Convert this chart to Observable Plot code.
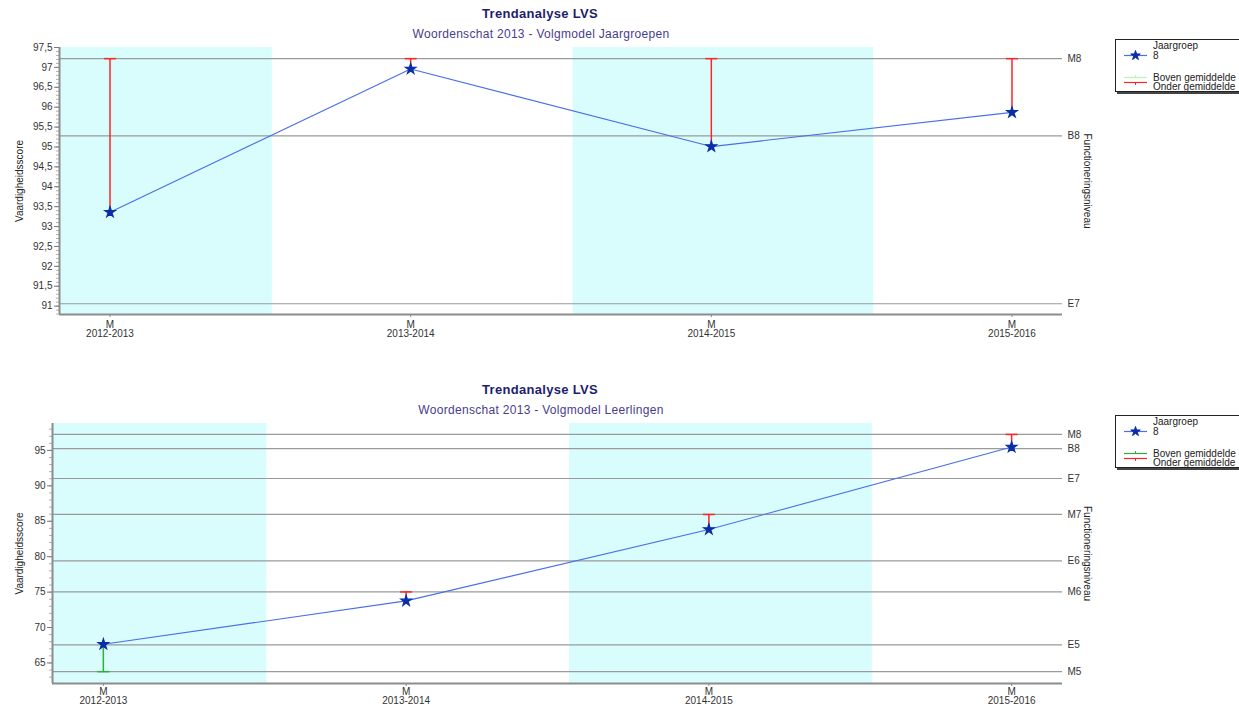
<!DOCTYPE html>
<html>
<head>
<meta charset="utf-8">
<script src="https://cdn.jsdelivr.net/npm/d3@7"></script>
<script src="https://cdn.jsdelivr.net/npm/@observablehq/plot@0.6"></script>
<style>
  html, body { margin: 0; padding: 0; background: #fff; overflow: hidden; }
  #root { position: relative; width: 1239px; height: 706px; overflow: hidden; font-family: "Liberation Sans", Arial, sans-serif; }
  .title { position: absolute; left: 0; width: 1080px; text-align: center; font-weight: bold; font-size: 13px; line-height: 13px; letter-spacing: 0.3px; color: #1e1e6e; }
  .subtitle { position: absolute; left: 0; width: 1082px; text-align: center; font-size: 12px; line-height: 12px; letter-spacing: 0.3px; color: #4a3c8c; }
  .chart { position: absolute; left: 0; }
  .legend { position: absolute; left: 1115px; width: 200px; height: 51px; border: 1px solid #222; box-shadow: 2px 2px 0 #444; background: #fff; font-size: 10px; color: #222; }
  .legend .t { position: absolute; left: 37px; line-height: 10px; white-space: nowrap; }
  .legend svg { position: absolute; left: 0; top: 0; }
</style>
</head>
<body>
<div id="root"></div>
<script>
// ---------- data ----------
const years = ["2012-2013", "2013-2014", "2014-2015", "2015-2016"];
const period = "M";

const scoresJaargroepen = [93.36, 96.96, 95.01, 95.87];
const normJaargroepen   = [97.22, 97.22, 97.22, 97.22];
const levelNamesJaargroepen  = ["M8", "B8", "E7"];
const levelValuesJaargroepen = [97.22, 95.28, 91.06];
const yDomainJaargroepen = [90.79, 97.5];
const majorTicksJaargroepen = [91, 91.5, 92, 92.5, 93, 93.5, 94, 94.5, 95, 95.5, 96, 96.5, 97, 97.5];

const scoresLeerlingen = [67.63, 73.76, 83.84, 95.47];
const normLeerlingen   = [63.77, 75.03, 85.96, 97.26];
const levelNamesLeerlingen  = ["M8", "B8", "E7", "M7", "E6", "M6", "E5", "M5"];
const levelValuesLeerlingen = [97.26, 95.24, 91.04, 85.96, 79.41, 75.03, 67.55, 63.77];
const yDomainLeerlingen = [62.1, 98.8];
const majorTicksLeerlingen = [65, 70, 75, 80, 85, 90, 95];

const bandStart = [-0.46, 1.54];
const bandEnd   = [0.54, 2.54];
const xDomain = [-0.168, 3.168];

const titleText = "Trendanalyse LVS";
const subtitleJaargroepen = "Woordenschat 2013 - Volgmodel Jaargroepen";
const subtitleLeerlingen = "Woordenschat 2013 - Volgmodel Leerlingen";
const legendGroupTitle = "Jaargroep";
const legendGroup = "8";
const legendAbove = "Boven gemiddelde";
const legendBelow = "Onder gemiddelde";

// ---------- helpers ----------
const RED = "#ff2424", GREEN = "#2fae3a", LINE = "#4a6fe6", STAR = "#0a2ea6", BAND = "#d9fdfd";
const capSymbol = {
  draw(context, size) {
    const r = Math.sqrt(size / Math.PI);
    context.moveTo(-r, 0);
    context.lineTo(r, 0);
  }
};
const fmtComma = d => String(d).replace(".", ",");

function makeChart({scores, norms, levelNames, levelValues, yDomain, majorTicks, minorStep, marginLeft, labelDx, height, xPad}) {
  const data = years.map((y, i) => ({i, score: scores[i], norm: norms[i]}));
  const levels = levelNames.map((name, k) => ({name, value: levelValues[k]}));
  const bands = bandStart.map((s, k) => ({start: s, end: bandEnd[k]}));
  const minor = d3.range(Math.ceil(yDomain[0] / minorStep) * minorStep, yDomain[1] + 1e-9, minorStep).map(v => +v.toFixed(3));
  const col = d => d.score < d.norm ? RED : GREEN;
  return Plot.plot({
    width: 1239,
    height,
    marginTop: 7,
    marginBottom: 26,
    marginLeft,
    marginRight: 1239 - 1062,
    style: {fontFamily: "'Liberation Sans', Arial, sans-serif", fontSize: "10px", color: "#333", background: "transparent", overflow: "visible"},
    x: {domain: xDomain, label: null},
    y: {domain: yDomain, label: null},
    marks: [
      Plot.rect(bands, {x1: "start", x2: "end", y1: () => yDomain[0], y2: () => yDomain[1], fill: BAND, clip: true}),
      Plot.ruleY(levels, {y: "value", stroke: "#9a9a9a", strokeWidth: 1.2}),
      Plot.text(levels, {y: "value", text: "name", frameAnchor: "right", textAnchor: "start", dx: 5, fill: "#333"}),
      Plot.axisY({ticks: minor, tickSize: 3, tickFormat: () => "", stroke: "#b0b0b0"}),
      Plot.axisY({ticks: majorTicks, tickSize: 5, tickPadding: 2, tickFormat: fmtComma, stroke: "#777", fill: "#333"}),
      Plot.axisX({ticks: [0, 1, 2, 3], tickSize: 3, tickPadding: xPad, lineHeight: 0.92, tickFormat: i => period + "\n" + years[i], stroke: "#888", fill: "#333"}),
      Plot.ruleX([xDomain[0]], {stroke: "#8c8c8c", strokeWidth: 2}),
      Plot.ruleY([yDomain[0]], {stroke: "#8c8c8c", strokeWidth: 2}),
      Plot.ruleX(data, {x: "i", y1: "score", y2: "norm", stroke: col, strokeWidth: 1.5}),
      Plot.dot(data, {x: "i", y: "norm", symbol: capSymbol, r: 6, fill: "none", stroke: col, strokeWidth: 1.5}),
      Plot.line(data, {x: "i", y: "score", stroke: LINE, strokeWidth: 1.1}),
      Plot.dot(data, {x: "i", y: "score", symbol: "star", r: 3.3, fill: STAR, stroke: STAR, strokeWidth: 1.2}),
      Plot.text(["Vaardigheidsscore"], {frameAnchor: "left", textAnchor: "middle", dx: labelDx, rotate: -90, fill: "#222"}),
      Plot.text(["Functioneringsniveau"], {frameAnchor: "right", textAnchor: "middle", dx: 25, rotate: 90, fill: "#222"})
    ]
  });
}

function addText(cls, text, top) {
  const d = document.createElement("div");
  d.className = cls;
  d.textContent = text;
  d.style.top = top + "px";
  root.appendChild(d);
}

function addLegend(top, aboveColor) {
  const box = document.createElement("div");
  box.className = "legend";
  box.style.top = top + "px";
  const svg = d3.create("svg").attr("width", 40).attr("height", 51);
  svg.append("line").attr("x1", 8).attr("x2", 31).attr("y1", 15.5).attr("y2", 15.5).attr("stroke", LINE).attr("stroke-width", 1.2);
  svg.append("path").attr("d", d3.symbol(d3.symbolStar, 28)()).attr("transform", "translate(19.5,15.5)").attr("fill", STAR).attr("stroke", STAR);
  svg.append("line").attr("x1", 8).attr("x2", 31).attr("y1", 37.5).attr("y2", 37.5).attr("stroke", aboveColor).attr("stroke-width", 1.2);
  svg.append("line").attr("x1", 19.5).attr("x2", 19.5).attr("y1", 35).attr("y2", 37.5).attr("stroke", aboveColor).attr("stroke-width", 1);
  svg.append("line").attr("x1", 8).attr("x2", 31).attr("y1", 42.5).attr("y2", 42.5).attr("stroke", RED).attr("stroke-width", 1.2);
  svg.append("line").attr("x1", 19.5).attr("x2", 19.5).attr("y1", 42.5).attr("y2", 45).attr("stroke", RED).attr("stroke-width", 1);
  box.appendChild(svg.node());
  [[legendGroupTitle, 1], [legendGroup, 11], [legendAbove, 33], [legendBelow, 42]].forEach(([t, y]) => {
    const s = document.createElement("div");
    s.className = "t";
    s.textContent = t;
    s.style.top = y + "px";
    box.appendChild(s);
  });
  root.appendChild(box);
}

const root = document.getElementById("root");

// ---------- top chart ----------
addText("title", titleText, 7);
addText("subtitle", subtitleJaargroepen, 28);
const c1 = makeChart({
  scores: scoresJaargroepen, norms: normJaargroepen,
  levelNames: levelNamesJaargroepen, levelValues: levelValuesJaargroepen,
  yDomain: yDomainJaargroepen, majorTicks: majorTicksJaargroepen, minorStep: 0.1,
  marginLeft: 59, labelDx: -40, height: 300, xPad: 4
});
c1.classList.add("chart");
c1.style.top = "40px";
root.appendChild(c1);
addLegend(39, "#b6f5b6");

// ---------- bottom chart ----------
addText("title", titleText, 383);
addText("subtitle", subtitleLeerlingen, 404);
const c2 = makeChart({
  scores: scoresLeerlingen, norms: normLeerlingen,
  levelNames: levelNamesLeerlingen, levelValues: levelValuesLeerlingen,
  yDomain: yDomainLeerlingen, majorTicks: majorTicksLeerlingen, minorStep: 1,
  marginLeft: 52, labelDx: -33, height: 293, xPad: 2
});
c2.classList.add("chart");
c2.style.top = "416px";
root.appendChild(c2);
addLegend(415, GREEN);
</script>
</body>
</html>
